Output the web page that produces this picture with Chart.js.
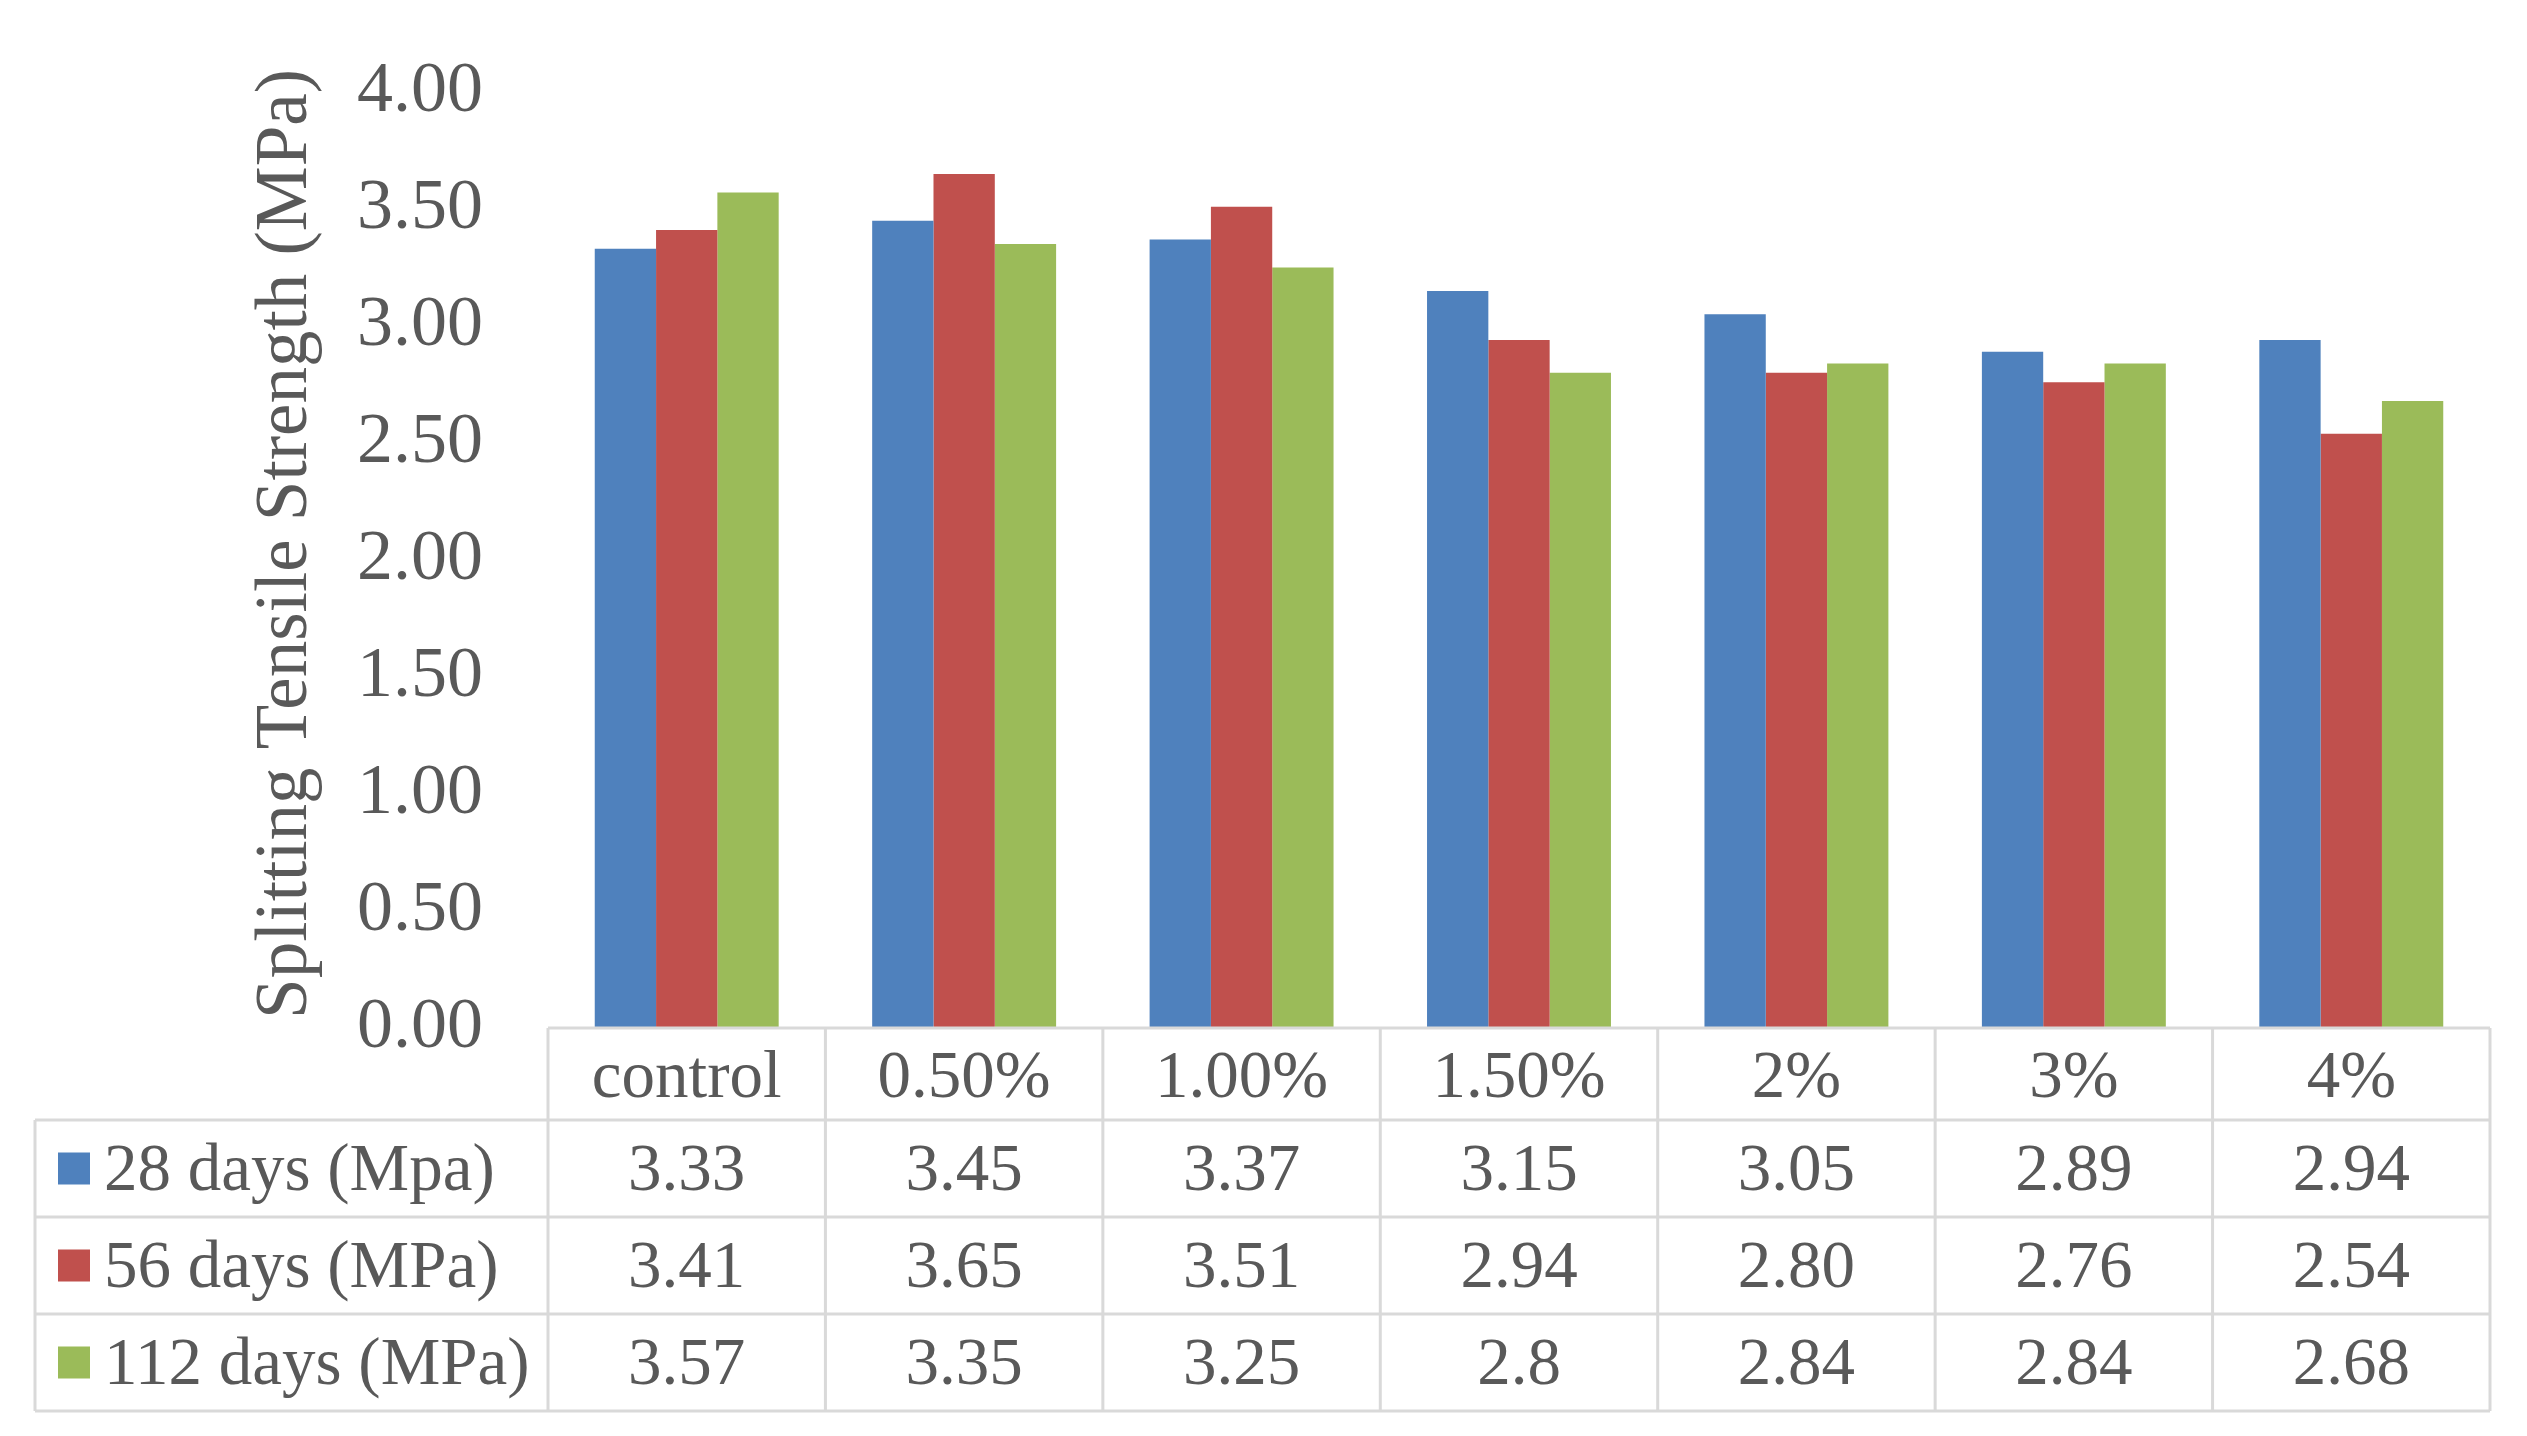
<!DOCTYPE html>
<html>
<head>
<meta charset="utf-8">
<script src="https://cdn.jsdelivr.net/npm/chart.js@4/dist/chart.umd.min.js"></script>
<style>
  html, body { margin: 0; padding: 0; background: #ffffff; }
  #c { display: block; }
</style>
</head>
<body>
<canvas id="c" width="2527" height="1436"></canvas>
<script>
const categories = ["control", "0.50%", "1.00%", "1.50%", "2%", "3%", "4%"];
const seriesNames = ["28 days (Mpa)", "56 days (MPa)", "112 days (MPa)"];
const days28 = ["3.33", "3.45", "3.37", "3.15", "3.05", "2.89", "2.94"];
const days56 = ["3.41", "3.65", "3.51", "2.94", "2.80", "2.76", "2.54"];
const days112 = ["3.57", "3.35", "3.25", "2.8", "2.84", "2.84", "2.68"];
const seriesColors = ["#4F81BD", "#C0504D", "#9BBB59"];
const yMin = 0, yMax = 4, yStep = 0.5;
const yTitle = "Splitting Tensile Strength (MPa)";

const tableSeries = [days28, days56, days112];
const FONT = "'Liberation Serif', 'Times New Roman', serif";
const TEXT = "#595959";

const tablePlugin = {
  id: "dataTable",
  afterDraw(chart) {
    const { ctx, chartArea, scales: { x } } = chart;
    const n = categories.length;
    const bounds = [];
    for (let i = 0; i <= n; i++) {
      if (i === 0) bounds.push(chartArea.left);
      else if (i === n) bounds.push(chartArea.right);
      else bounds.push((x.getPixelForValue(i - 1) + x.getPixelForValue(i)) / 2);
    }
    const rowH = [92, 97, 97, 97];
    const ys = [chartArea.bottom];
    rowH.forEach(h => ys.push(ys[ys.length - 1] + h));
    const leftEdge = 35;

    ctx.save();
    ctx.strokeStyle = "#d9d9d9";
    ctx.lineWidth = 3;
    ctx.beginPath();
    ctx.moveTo(bounds[0], ys[0]); ctx.lineTo(bounds[n], ys[0]);
    for (let r = 1; r < ys.length; r++) {
      ctx.moveTo(leftEdge, ys[r]); ctx.lineTo(bounds[n], ys[r]);
    }
    for (let i = 0; i <= n; i++) {
      ctx.moveTo(bounds[i], ys[0]); ctx.lineTo(bounds[i], ys[ys.length - 1]);
    }
    ctx.moveTo(leftEdge, ys[1]); ctx.lineTo(leftEdge, ys[ys.length - 1]);
    ctx.stroke();

    ctx.fillStyle = TEXT;
    ctx.font = "67px " + FONT;
    ctx.textBaseline = "middle";
    ctx.textAlign = "center";
    for (let i = 0; i < n; i++) {
      const cx = (bounds[i] + bounds[i + 1]) / 2;
      ctx.fillText(categories[i], cx, (ys[0] + ys[1]) / 2 + 5);
      for (let s = 0; s < tableSeries.length; s++) {
        ctx.fillText(tableSeries[s][i], cx, (ys[s + 1] + ys[s + 2]) / 2 + 4);
      }
    }
    ctx.textAlign = "left";
    for (let s = 0; s < seriesNames.length; s++) {
      const cy = (ys[s + 1] + ys[s + 2]) / 2;
      ctx.fillStyle = seriesColors[s];
      ctx.fillRect(58, cy - 16, 32, 32);
      ctx.fillStyle = TEXT;
      ctx.fillText(seriesNames[s], 104, cy + 4);
    }

    // rotated axis title
    ctx.save();
    ctx.translate(287, 544);
    ctx.rotate(-Math.PI / 2);
    ctx.textAlign = "center";
    ctx.textBaseline = "middle";
    ctx.font = "73px " + FONT;
    ctx.fillStyle = TEXT;
    ctx.fillText(yTitle, 0, 0);
    ctx.restore();

    ctx.restore();
  }
};

new Chart(document.getElementById("c"), {
  type: "bar",
  data: {
    labels: categories,
    datasets: tableSeries.map((arr, s) => ({
      label: seriesNames[s],
      data: arr.map(Number),
      backgroundColor: seriesColors[s],
      borderWidth: 0,
      categoryPercentage: 0.663,
      barPercentage: 1.0
    }))
  },
  options: {
    responsive: false,
    devicePixelRatio: 1,
    animation: false,
    layout: { padding: { top: 92, right: 37, left: 0, bottom: 0 } },
    plugins: { legend: { display: false }, tooltip: { enabled: false } },
    scales: {
      x: {
        grid: { display: false, drawTicks: false },
        border: { display: false },
        ticks: { display: false },
        afterFit(s) { s.height = 408; }
      },
      y: {
        min: yMin, max: yMax,
        grid: { display: false, drawTicks: false },
        border: { display: false },
        ticks: {
          stepSize: yStep,
          padding: 65,
          color: TEXT,
          font: { family: FONT, size: 72 },
          callback: v => Number(v).toFixed(2)
        },
        title: { display: false },
        afterFit(s) { s.width = 548; s.paddingTop = 0; s.paddingBottom = 0; }
      }
    }
  },
  plugins: [tablePlugin]
});
</script>
</body>
</html>
